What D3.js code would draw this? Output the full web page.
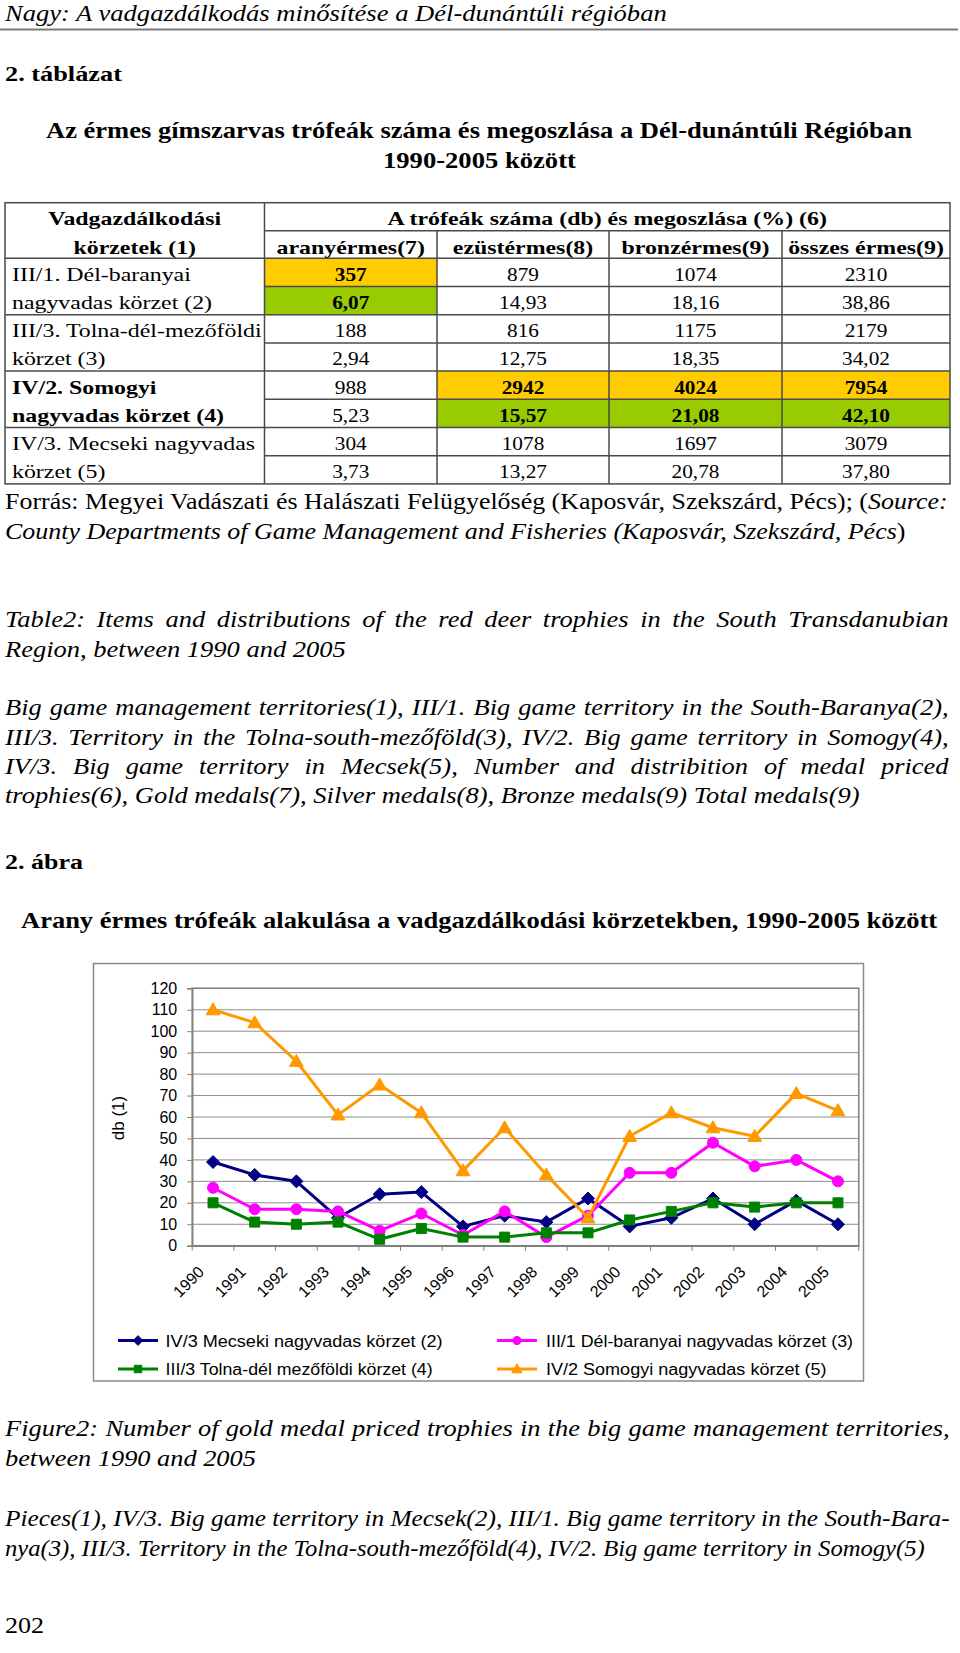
<!DOCTYPE html>
<html><head><meta charset="utf-8">
<script src="https://cdn.jsdelivr.net/npm/d3@7"></script>
<style>html,body{margin:0;padding:0;background:#fff;} svg{display:block;}</style>
</head><body>
<svg id="page" width="960" height="1653"></svg>
<script>
// ---------- DATA ----------
const years = ["1990","1991","1992","1993","1994","1995","1996","1997","1998","1999","2000","2001","2002","2003","2004","2005"];
const mecseki     = [39,33,30,13,24,25,9,14,11,22,9,13,22,10,21,10];
const delBaranyai = [27,17,17,16,7,15,5,16,4,14,34,34,48,37,40,30];
const tolnaDel    = [20,11,10,11,3,8,4,4,6,6,12,16,20,18,20,20];
const somogyi     = [110,104,86,61,75,62,35,55,33,13,51,62,55,51,71,63];
const seriesNames = ["IV/3 Mecseki nagyvadas körzet (2)","III/1 Dél-baranyai nagyvadas körzet (3)","III/3 Tolna-dél mezőföldi körzet (4)","IV/2 Somogyi nagyvadas körzet (5)"];
const yTicks = [0,10,20,30,40,50,60,70,80,90,100,110,120];
const yTitle = "db (1)";

const tableHeadLeft = ["Vadgazdálkodási","körzetek (1)"];
const tableHeadTop = "A trófeák száma (db) és megoszlása (%) (6)";
const tableColumns = ["aranyérmes(7)","ezüstérmes(8)","bronzérmes(9)","összes érmes(9)"];
const regionLabels = [["III/1. Dél-baranyai","nagyvadas körzet (2)"],["III/3. Tolna-dél-mezőföldi","körzet (3)"],["IV/2. Somogyi","nagyvadas körzet (4)"],["IV/3. Mecseki nagyvadas","körzet (5)"]];
const tableCounts   = [["357","879","1074","2310"],["188","816","1175","2179"],["988","2942","4024","7954"],["304","1078","1697","3079"]];
const tablePercents = [["6,07","14,93","18,16","38,86"],["2,94","12,75","18,35","34,02"],["5,23","15,57","21,08","42,10"],["3,73","13,27","20,78","37,80"]];
const maxCells = [[0],[],[1,2,3],[]];   // highest value per column
const boldRegion = [false,false,true,false];

// ---------- SETUP ----------
const SERIF = "'Liberation Serif','DejaVu Serif Condensed','DejaVu Serif',serif";
const SANS = "'Liberation Sans',Arial,Helvetica,sans-serif";
const svg = d3.select("#page");
svg.append("rect").attr("width",960).attr("height",1653).attr("fill","#fff");

// ---------- BODY TEXT ----------
const B = 23;
const bodyLines = [
 {p:[["Nagy: A vadgazdálkodás minősítése a Dél-dunántúli régióban","i"]], x0:5,x1:667,y:21,size:B},
 {p:[["2. táblázat","b"]], x0:5,x1:122,y:81,size:22},
 {p:[["Az érmes gímszarvas trófeák száma és megoszlása a Dél-dunántúli Régióban","b"]], x0:46,x1:912,y:138,size:B},
 {p:[["1990-2005 között","b"]], x0:383,x1:576,y:168,size:B},
 {p:[["Forrás: Megyei Vadászati és Halászati Felügyelőség (Kaposvár, Szekszárd, Pécs); (",""],["Source:","i"]], x0:5,x1:948,y:509,size:B,j:true},
 {p:[["County Departments of Game Management and Fisheries (Kaposvár, Szekszárd, Pécs","i"],[")",""]], x0:5,x1:906,y:539,size:B},
 {p:[["Table2: Items and distributions of the red deer trophies in the South Transdanubian","i"]], x0:5,x1:949,y:627,size:B,j:true},
 {p:[["Region, between 1990 and 2005","i"]], x0:5,x1:346,y:657,size:B},
 {p:[["Big game management territories(1), III/1. Big game territory in the South-Baranya(2),","i"]], x0:5,x1:949,y:715,size:B,j:true},
 {p:[["III/3. Territory in the Tolna-south-mezőföld(3), IV/2. Big game territory in Somogy(4),","i"]], x0:5,x1:949,y:745,size:B,j:true},
 {p:[["IV/3. Big game territory in Mecsek(5), Number and distribition of medal priced","i"]], x0:5,x1:949,y:774,size:B,j:true},
 {p:[["trophies(6), Gold medals(7), Silver medals(8), Bronze medals(9) Total medals(9)","i"]], x0:5,x1:860,y:803,size:B},
 {p:[["2. ábra","b"]], x0:5,x1:83,y:869,size:22},
 {p:[["Arany érmes trófeák alakulása a vadgazdálkodási körzetekben, 1990-2005 között","b"]], x0:21,x1:938,y:928,size:24},
 {p:[["Figure2: Number of gold medal priced trophies in the big game management territories,","i"]], x0:5,x1:950,y:1436,size:B,j:true},
 {p:[["between 1990 and 2005","i"]], x0:5,x1:256,y:1466,size:B},
 {p:[["Pieces(1), IV/3. Big game territory in Mecsek(2), III/1. Big game territory in the South-Bara-","i"]], x0:5,x1:950,y:1526,size:B,j:true},
 {p:[["nya(3), III/3. Territory in the Tolna-south-mezőföld(4), IV/2. Big game territory in Somogy(5)","i"]], x0:5,x1:925,y:1556,size:B},
 {p:[["202",""]], x0:5,x1:44,y:1633,size:B}
];

function makeText(parent, parts, size, family){
  const t = parent.append("text").attr("x",0).attr("y",0)
    .attr("font-family",family||SERIF).attr("font-size",size).attr("fill","#000");
  parts.forEach(([s,f]) => t.append("tspan").text(s)
    .attr("font-style", f.includes("i")?"italic":"normal")
    .attr("font-weight", f.includes("b")?"bold":"normal"));
  return t;
}
const scales = [];
const pending = [];
bodyLines.forEach(L => {
  const t = makeText(svg, L.p, L.size);
  const w0 = t.node().getComputedTextLength();
  if (!L.j) {
    const s = (L.x1-L.x0)/w0;
    scales.push(s);
    t.attr("transform",`translate(${L.x0},${L.y}) scale(${s},1)`);
  } else pending.push({t,L,w0});
});
const S = d3.median(scales);
pending.forEach(({t,L,w0}) => {
  const txt = L.p.map(d=>d[0]).join("");
  const n = (txt.match(/ /g)||[]).length;
  let ws = ((L.x1-L.x0)/S - w0)/n;
  if (ws < 0) ws = 0;
  t.attr("word-spacing", ws);
  const w1 = t.node().getComputedTextLength();
  const s = (L.x1-L.x0)/w1;
  t.attr("transform",`translate(${L.x0},${L.y}) scale(${s},1)`);
});

// header rule
svg.append("line").attr("x1",0).attr("x2",958).attr("y1",29.5).attr("y2",29.5)
  .attr("stroke","#7a7a7a").attr("stroke-width",2);

// ---------- TABLE ----------
const colX = [5,264.5,437,609,782,950];
const tTop = 202.7, tMid = 230.7, tHead = 258.3, rowH = 28.2;
const nRows = regionLabels.length*2;
const tBot = tHead + nRows*rowH;
const tbl = svg.append("g");
const TS = 18.5;
// highlights
regionLabels.forEach((r,gi) => {
  maxCells[gi].forEach(ci => {
    tbl.append("rect").attr("x",colX[ci+1]).attr("y",tHead+gi*2*rowH)
      .attr("width",colX[ci+2]-colX[ci+1]).attr("height",rowH).attr("fill","#FFCC00");
    tbl.append("rect").attr("x",colX[ci+1]).attr("y",tHead+(gi*2+1)*rowH)
      .attr("width",colX[ci+2]-colX[ci+1]).attr("height",rowH).attr("fill","#99CC00");
  });
});
function cellText(str, cx, y, bold, anchor, maxW, k){
  const t = makeText(tbl, [[str, bold?"b":""]], TS);
  let s = S*(k||1);
  if (maxW) { const w = t.node().getComputedTextLength(); s = Math.min(s, maxW/w); }
  t.attr("text-anchor", anchor||"middle")
   .attr("transform",`translate(${cx},${y}) scale(${s},1)`);
}
const KT = 1.12;
// header texts
cellText(tableHeadLeft[0], (colX[0]+colX[1])/2, 225, true, "middle", colX[1]-colX[0]-10, KT);
cellText(tableHeadLeft[1], (colX[0]+colX[1])/2, 254, true, "middle", colX[1]-colX[0]-10, KT);
cellText(tableHeadTop, (colX[1]+colX[5])/2, 225, true, "middle", null, KT);
tableColumns.forEach((c,i) => cellText(c, (colX[i+1]+colX[i+2])/2, 254, true, "middle", colX[i+2]-colX[i+1]-8, KT));
// data
regionLabels.forEach((r,gi) => {
  const y1 = tHead + gi*2*rowH + 22.4, y2 = y1 + rowH;
  cellText(r[0], 12, y1, boldRegion[gi], "start", colX[1]-14, KT);
  cellText(r[1], 12, y2, boldRegion[gi], "start", colX[1]-14, KT);
  tableCounts[gi].forEach((v,ci) => cellText(v,(colX[ci+1]+colX[ci+2])/2, y1, maxCells[gi].includes(ci)));
  tablePercents[gi].forEach((v,ci) => cellText(v,(colX[ci+1]+colX[ci+2])/2, y2, maxCells[gi].includes(ci)));
});
// grid lines
const lineStyle = sel => sel.attr("stroke","#4a4a4a").attr("stroke-width",1.5);
tbl.append("rect").attr("x",colX[0]).attr("y",tTop).attr("width",colX[5]-colX[0]).attr("height",tBot-tTop)
  .attr("fill","none").call(lineStyle);
tbl.append("line").attr("x1",colX[1]).attr("x2",colX[1]).attr("y1",tTop).attr("y2",tBot).call(lineStyle);
[2,3,4].forEach(i => tbl.append("line").attr("x1",colX[i]).attr("x2",colX[i]).attr("y1",tMid).attr("y2",tBot).call(lineStyle));
tbl.append("line").attr("x1",colX[1]).attr("x2",colX[5]).attr("y1",tMid).attr("y2",tMid).call(lineStyle);
tbl.append("line").attr("x1",colX[0]).attr("x2",colX[5]).attr("y1",tHead).attr("y2",tHead).call(lineStyle);
d3.range(1,nRows).forEach(i => {
  const yy = tHead + i*rowH;
  tbl.append("line").attr("x1", i%2? colX[1]:colX[0]).attr("x2",colX[5]).attr("y1",yy).attr("y2",yy).call(lineStyle);
});

// ---------- CHART ----------
const box = {x0:93.5, y0:963.5, x1:863.5, y1:1381};
const plot = {x0:192.2, x1:858.8, y0:988.3, y1:1245.7};
const ch = svg.append("g");
ch.append("rect").attr("x",box.x0).attr("y",box.y0).attr("width",box.x1-box.x0).attr("height",box.y1-box.y0)
  .attr("fill","#fff").attr("stroke","#8a8a8a").attr("stroke-width",1.5);

const x = d3.scaleBand().domain(years).range([plot.x0, plot.x1]);
const y = d3.scaleLinear().domain([0,120]).range([plot.y1, plot.y0]);
const bw = x.bandwidth();
const cx = d => x(d) + bw/2;

// gridlines
ch.append("g").selectAll("line").data(yTicks.slice(1)).join("line")
  .attr("x1",plot.x0).attr("x2",plot.x1).attr("y1",d=>y(d)).attr("y2",d=>y(d))
  .attr("stroke","#8c8c8c").attr("stroke-width",1);
ch.append("rect").attr("x",plot.x0).attr("y",plot.y0).attr("width",plot.x1-plot.x0).attr("height",plot.y1-plot.y0)
  .attr("fill","none").attr("stroke","#808080").attr("stroke-width",1.5);

// y axis
const ya = ch.append("g").attr("transform",`translate(${plot.x0},0)`)
  .call(d3.axisLeft(y).tickValues(yTicks).tickSize(5).tickPadding(10).tickFormat(d3.format("d")));
ya.select(".domain").attr("stroke","#808080").attr("stroke-width",1.5);
ya.selectAll(".tick line").attr("stroke","#808080");
ya.selectAll(".tick text").attr("font-family",SANS).attr("font-size",16).attr("fill","#000");

// x axis
const xa = ch.append("g").attr("transform",`translate(0,${plot.y1})`)
  .call(d3.axisBottom(x).tickSize(0).tickFormat(""));
xa.select(".domain").attr("stroke","#808080").attr("stroke-width",1.5);
ch.append("g").selectAll("line").data(years.map(d=>x(d)).concat([plot.x1])).join("line")
  .attr("x1",d=>d).attr("x2",d=>d).attr("y1",plot.y1).attr("y2",plot.y1+5).attr("stroke","#808080");
ch.append("g").selectAll("text").data(years).join("text")
  .attr("transform", d => `translate(${cx(d)-8},1273) rotate(-45)`)
  .attr("text-anchor","end").attr("font-family",SANS).attr("font-size",16).attr("fill","#000")
  .text(d=>d);

// y title
ch.append("text").attr("transform","translate(118,1118) rotate(-90)")
  .attr("text-anchor","middle").attr("dominant-baseline","central")
  .attr("font-family",SANS).attr("font-size",17).text(yTitle);

// series
const shapes = {
  diamond: r => `M0,${-r}L${r},0L0,${r}L${-r},0Z`,
  circle: r => `M${r},0A${r},${r} 0 1,1 ${-r},0A${r},${r} 0 1,1 ${r},0Z`,
  square: r => `M${-r},${-r}H${r}V${r}H${-r}Z`,
  triangle: r => `M0,${-r*1.15}L${r*1.15},${r*0.85}L${-r*1.15},${r*0.85}Z`
};
const series = [
  {name:seriesNames[0], values:mecseki, color:"#000080", shape:"diamond", r:6.5},
  {name:seriesNames[1], values:delBaranyai, color:"#FF00FF", shape:"circle", r:5.5},
  {name:seriesNames[2], values:tolnaDel, color:"#008000", shape:"square", r:5},
  {name:seriesNames[3], values:somogyi, color:"#FF9900", shape:"triangle", r:6}
];
const lineGen = d3.line().x((d,i)=>cx(years[i])).y(d=>y(d));
series.forEach(s => {
  const g = ch.append("g");
  g.append("path").attr("d",lineGen(s.values)).attr("fill","none").attr("stroke",s.color)
    .attr("stroke-width",3).attr("stroke-linejoin","round");
  g.selectAll("path.m").data(s.values).join("path").attr("class","m")
    .attr("transform",(d,i)=>`translate(${cx(years[i])},${y(d)})`)
    .attr("d",shapes[s.shape](s.r)).attr("fill",s.color).attr("stroke",s.color).attr("stroke-width",1);
});

// legend
const legPos = [{lx:118,tx:165.6,tx1:442.6,y:1340.5},{lx:497,tx:546,tx1:853,y:1340.5},
                {lx:118,tx:165.6,tx1:432.6,y:1369},{lx:497,tx:546,tx1:826.5,y:1369}];
series.forEach((s,i) => {
  const P = legPos[i];
  const g = ch.append("g");
  g.append("line").attr("x1",P.lx).attr("x2",P.lx+40).attr("y1",P.y).attr("y2",P.y)
    .attr("stroke",s.color).attr("stroke-width",3);
  g.append("path").attr("transform",`translate(${P.lx+20},${P.y})`).attr("d",shapes[s.shape](s.r*0.75))
    .attr("fill",s.color).attr("stroke",s.color);
  g.append("text").attr("x",P.tx).attr("y",P.y+6.3).attr("font-family",SANS).attr("font-size",16)
    .attr("textLength",P.tx1-P.tx).attr("lengthAdjust","spacingAndGlyphs").text(s.name);
});
</script>
</body></html>
